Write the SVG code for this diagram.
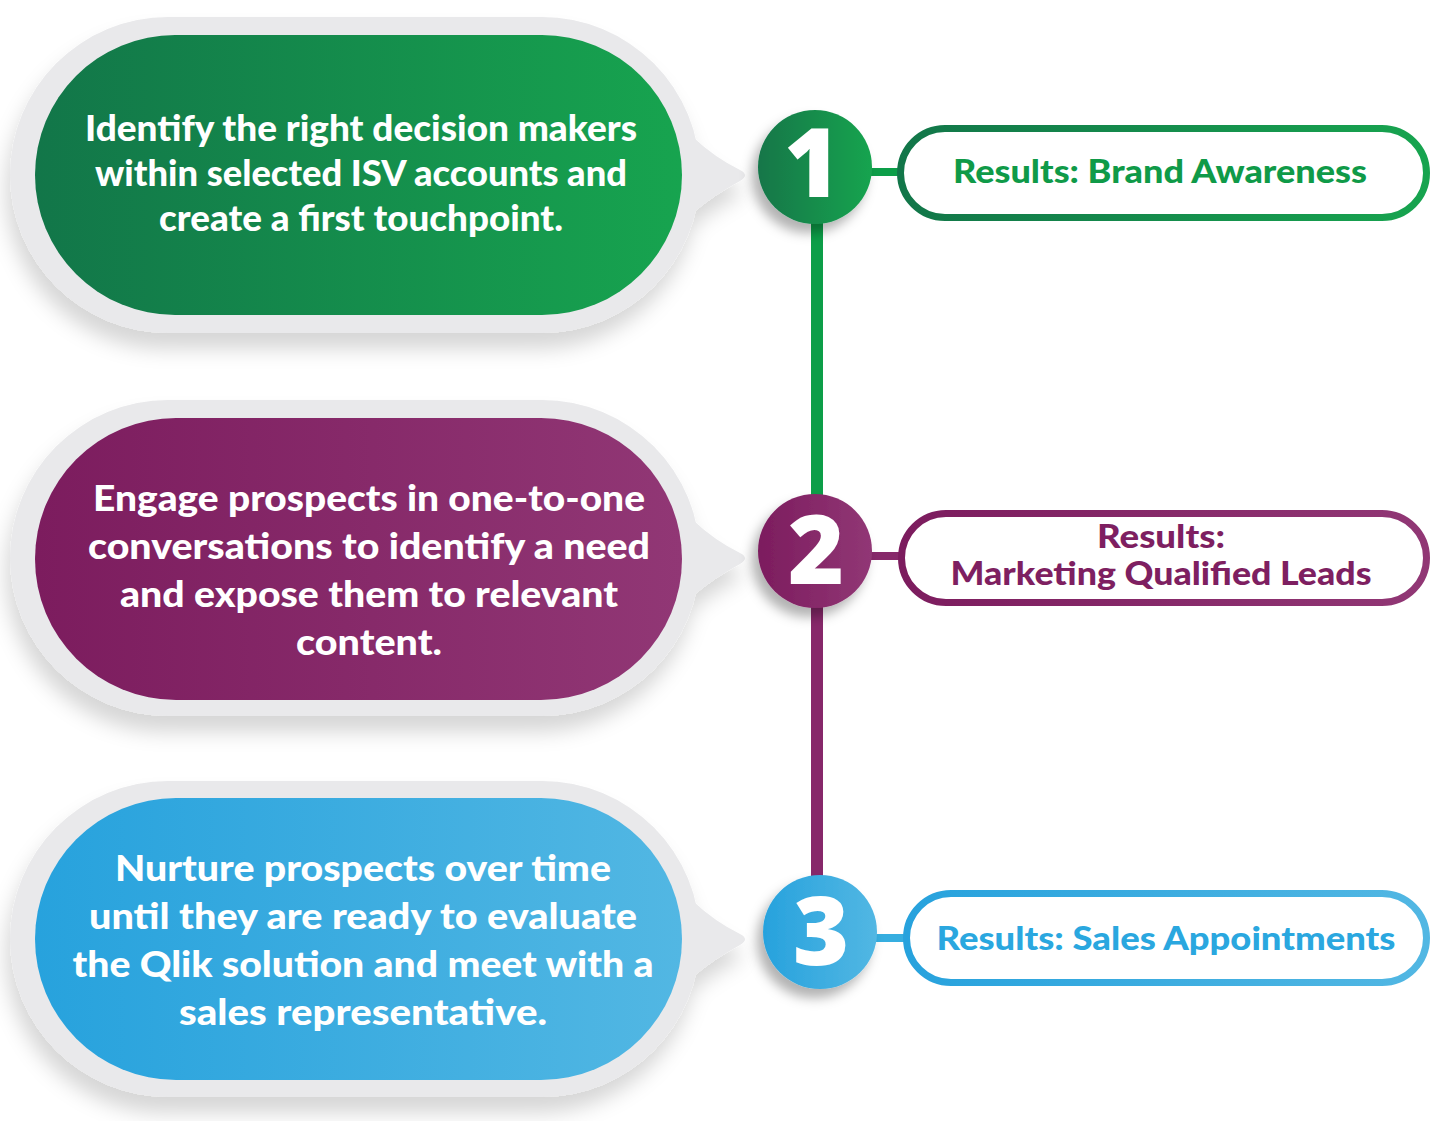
<svg xmlns="http://www.w3.org/2000/svg" width="1430" height="1121" viewBox="0 0 1430 1121">
  <defs>
    <linearGradient id="gGreen" x1="0" y1="0" x2="1" y2="0">
      <stop offset="0" stop-color="#127649"/>
      <stop offset="1" stop-color="#17a44f"/>
    </linearGradient>
    <linearGradient id="gPurple" x1="0" y1="0" x2="1" y2="0">
      <stop offset="0" stop-color="#7c1c5e"/>
      <stop offset="1" stop-color="#913775"/>
    </linearGradient>
    <linearGradient id="gBlue" x1="0" y1="0" x2="1" y2="0">
      <stop offset="0" stop-color="#27a2dd"/>
      <stop offset="1" stop-color="#52b7e3"/>
    </linearGradient>
    <filter id="shBubble" x="-10%" y="-10%" width="120%" height="135%">
      <feDropShadow dx="-4" dy="16" stdDeviation="10" flood-color="#000" flood-opacity="0.16"/>
    </filter>
    <filter id="shCircle" x="-40%" y="-40%" width="180%" height="180%">
      <feDropShadow dx="-6" dy="9" stdDeviation="6" flood-color="#000" flood-opacity="0.3"/>
    </filter>
    <g id="outerBubble">
      <rect x="10" y="0" width="690" height="316" rx="158" ry="158"/>
      <path d="M694 121 Q714 140 740 153 Q750 158 740 164 Q714 178 694 195 Z"/>
    </g>
  </defs>
  <style>
    .outer { fill: #e9e9eb; }
    .body { font-family: Lato, 'Open Sans', 'Liberation Sans', sans-serif; font-weight: 900; font-size: 36px; fill: #ffffff; text-anchor: middle; }
    .num { font-family: 'Open Sans', Lato, 'Liberation Sans', sans-serif; font-weight: 800; font-size: 96px; fill: #ffffff; text-anchor: middle; }
    .res { font-family: Lato, 'Open Sans', 'Liberation Sans', sans-serif; font-weight: 900; font-size: 32px; text-anchor: middle; }
    .pill { fill: #ffffff; stroke-width: 7; }
  </style>

  <g id="connectors">
    <line x1="817" y1="215" x2="817" y2="505" stroke="#0c9e48" stroke-width="12"/>
    <line x1="817" y1="595" x2="817" y2="885" stroke="#87286a" stroke-width="12"/>
    <line x1="865" y1="172" x2="902" y2="172" stroke="#0c9e48" stroke-width="8"/>
    <line x1="865" y1="556" x2="903" y2="556" stroke="#87286a" stroke-width="8"/>
    <line x1="870" y1="938" x2="908" y2="938" stroke="#36aee0" stroke-width="8"/>
  </g>

  <g id="step1">
    <g class="outer" filter="url(#shBubble)" transform="translate(0,17)"><use href="#outerBubble"/></g>
    <rect x="35" y="35" width="647" height="280" rx="140" ry="140" fill="url(#gGreen)"/>
    <text class="body" x="361" y="141" textLength="552" lengthAdjust="spacingAndGlyphs">Identify the right decision makers</text>
    <text class="body" x="361" y="186" textLength="532" lengthAdjust="spacingAndGlyphs">within selected ISV accounts and</text>
    <text class="body" x="361" y="231" textLength="404" lengthAdjust="spacingAndGlyphs">create a first touchpoint.</text>
  </g>

  <g id="step2">
    <g class="outer" filter="url(#shBubble)" transform="translate(0,400)"><use href="#outerBubble"/></g>
    <rect x="35" y="418" width="647" height="282" rx="141" ry="141" fill="url(#gPurple)"/>
    <text class="body" x="369" y="511" font-size="38" textLength="552" lengthAdjust="spacingAndGlyphs">Engage prospects in one-to-one</text>
    <text class="body" x="369" y="559" font-size="38" textLength="562" lengthAdjust="spacingAndGlyphs">conversations to identify a need</text>
    <text class="body" x="369" y="607" font-size="38" textLength="498" lengthAdjust="spacingAndGlyphs">and expose them to relevant</text>
    <text class="body" x="369" y="655" font-size="38" textLength="146" lengthAdjust="spacingAndGlyphs">content.</text>
  </g>

  <g id="step3">
    <g class="outer" filter="url(#shBubble)" transform="translate(0,781)"><use href="#outerBubble"/></g>
    <rect x="35" y="798" width="647" height="282" rx="141" ry="141" fill="url(#gBlue)"/>
    <text class="body" x="363" y="881" font-size="38" textLength="496" lengthAdjust="spacingAndGlyphs">Nurture prospects over time</text>
    <text class="body" x="363" y="929" font-size="38" textLength="548" lengthAdjust="spacingAndGlyphs">until they are ready to evaluate</text>
    <text class="body" x="363" y="977" font-size="38" textLength="581" lengthAdjust="spacingAndGlyphs">the Qlik solution and meet with a</text>
    <text class="body" x="363" y="1025" font-size="38" textLength="368" lengthAdjust="spacingAndGlyphs">sales representative.</text>
  </g>

  <g id="circle1">
    <circle cx="815" cy="167" r="57" fill="url(#gGreen)" filter="url(#shCircle)"/>
    <text class="num" x="812" y="197">1</text>
  </g>
  <g id="circle2">
    <circle cx="815" cy="551" r="57" fill="url(#gPurple)" filter="url(#shCircle)"/>
    <text class="num" x="816" y="584">2</text>
  </g>
  <g id="circle3">
    <circle cx="820" cy="932" r="57" fill="url(#gBlue)" filter="url(#shCircle)"/>
    <text class="num" x="821" y="965">3</text>
  </g>

  <g id="result1">
    <rect class="pill" x="900.5" y="128.5" width="526" height="89" rx="44.5" stroke="url(#gGreen)"/>
    <text class="res" x="1160" y="183" fill="#0f9a48" textLength="414" lengthAdjust="spacingAndGlyphs">Results: Brand Awareness</text>
  </g>
  <g id="result2">
    <rect class="pill" x="901.5" y="513.5" width="525" height="89" rx="44.5" stroke="url(#gPurple)"/>
    <text class="res" x="1161" y="548" font-size="29" fill="#7e1f61" textLength="128" lengthAdjust="spacingAndGlyphs">Results:</text>
    <text class="res" x="1161" y="585" font-size="29" fill="#7e1f61" textLength="421" lengthAdjust="spacingAndGlyphs">Marketing Qualified Leads</text>
  </g>
  <g id="result3">
    <rect class="pill" x="906.5" y="893.5" width="520" height="89" rx="44.5" stroke="url(#gBlue)"/>
    <text class="res" x="1166" y="950" fill="#2aa7df" textLength="459" lengthAdjust="spacingAndGlyphs">Results: Sales Appointments</text>
  </g>
</svg>
